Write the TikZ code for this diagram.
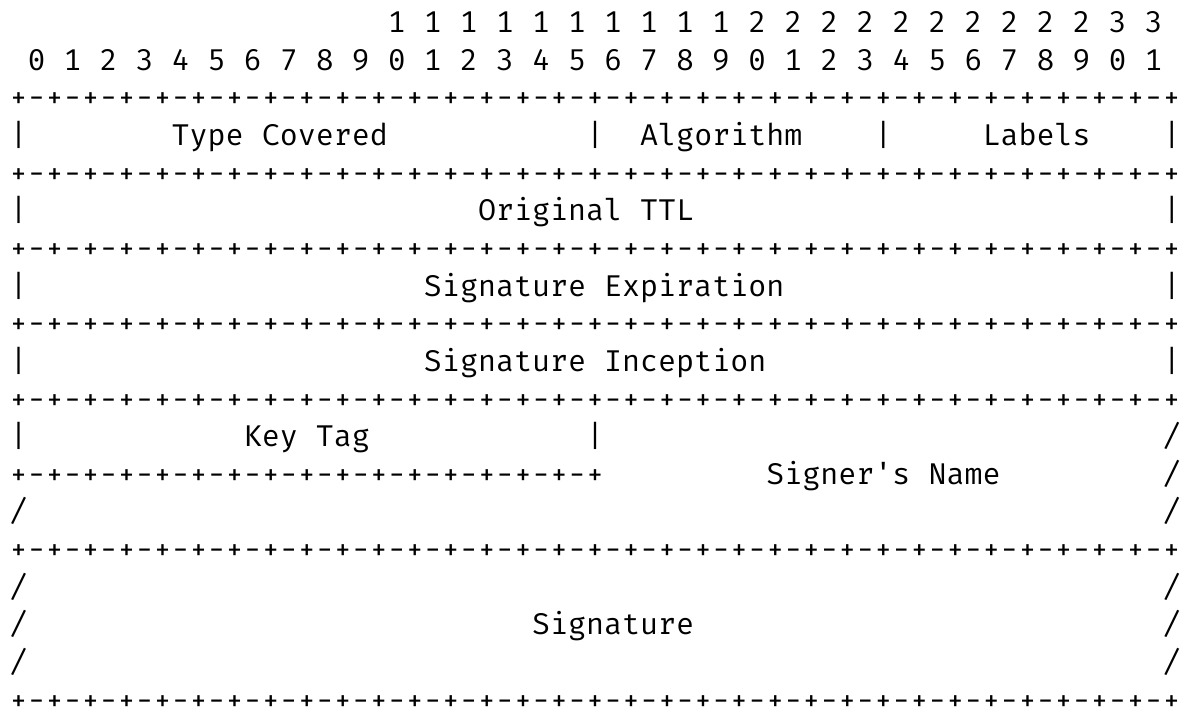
\documentclass[tikz,border=0pt]{standalone}
\usepackage{fontspec}
\newfontfamily\diagmono{Fira Mono}
\def\pp{+-+-+-+-}
\begin{document}
\begin{tikzpicture}[x=1pt,y=1pt,
  cell/.style={anchor=base west, inner sep=0pt, outer sep=0pt, text=black,
    font=\diagmono\fontsize{30.03}{36}\selectfont}]
\useasboundingbox (0,0) rectangle (1184,-710);
\begin{scope}[shift={(9.5,-32.5)}, x=18.02pt, y=-37.65pt]
% bit numbers
\node[cell] (tens) at (21,0) {1 1 1 1 1 1 1 1 1 1 2 2 2 2 2 2 2 2 2 2 3 3};
\node[cell] (ones) at (1,1) {0 1 2 3 4 5 6 7 8 9 0 1 2 3 4 5 6 7 8 9 0 1 2 3 4 5 6 7 8 9 0 1};
% row 1
\node[cell] (r2) at (0,2) {\pp\pp\pp\pp\pp\pp\pp\pp+};
\node[cell] (b3a) at (0,3) {|};
\node[cell] (typecov) at (9,3) {Type Covered};
\node[cell] (b3b) at (32,3) {|};
\node[cell] (algo) at (35,3) {Algorithm};
\node[cell] (b3c) at (48,3) {|};
\node[cell] (labels) at (54,3) {Labels};
\node[cell] (b3d) at (64,3) {|};
\node[cell] (r4) at (0,4) {\pp\pp\pp\pp\pp\pp\pp\pp+};
% row 2
\node[cell] (b5a) at (0,5) {|};
\node[cell] (ttl) at (26,5) {Original TTL};
\node[cell] (b5b) at (64,5) {|};
\node[cell] (r6) at (0,6) {\pp\pp\pp\pp\pp\pp\pp\pp+};
% row 3
\node[cell] (b7a) at (0,7) {|};
\node[cell] (sigexp) at (23,7) {Signature Expiration};
\node[cell] (b7b) at (64,7) {|};
\node[cell] (r8) at (0,8) {\pp\pp\pp\pp\pp\pp\pp\pp+};
% row 4
\node[cell] (b9a) at (0,9) {|};
\node[cell] (siginc) at (23,9) {Signature Inception};
\node[cell] (b9b) at (64,9) {|};
\node[cell] (r10) at (0,10) {\pp\pp\pp\pp\pp\pp\pp\pp+};
% row 5
\node[cell] (b11a) at (0,11) {|};
\node[cell] (keytag) at (13,11) {Key Tag};
\node[cell] (b11b) at (32,11) {|};
\node[cell] (s11) at (64,11) {/};
\node[cell] (r12) at (0,12) {\pp\pp\pp\pp+};
\node[cell] (signer) at (42,12) {Signer's Name};
\node[cell] (s12) at (64,12) {/};
\node[cell] (s13a) at (0,13) {/};
\node[cell] (s13b) at (64,13) {/};
\node[cell] (r14) at (0,14) {\pp\pp\pp\pp\pp\pp\pp\pp+};
% signature
\node[cell] (s15a) at (0,15) {/};
\node[cell] (s15b) at (64,15) {/};
\node[cell] (s16a) at (0,16) {/};
\node[cell] (sig) at (29,16) {Signature};
\node[cell] (s16b) at (64,16) {/};
\node[cell] (s17a) at (0,17) {/};
\node[cell] (s17b) at (64,17) {/};
\node[cell] (r18) at (0,18) {\pp\pp\pp\pp\pp\pp\pp\pp+};
\end{scope}
\end{tikzpicture}
\end{document}
